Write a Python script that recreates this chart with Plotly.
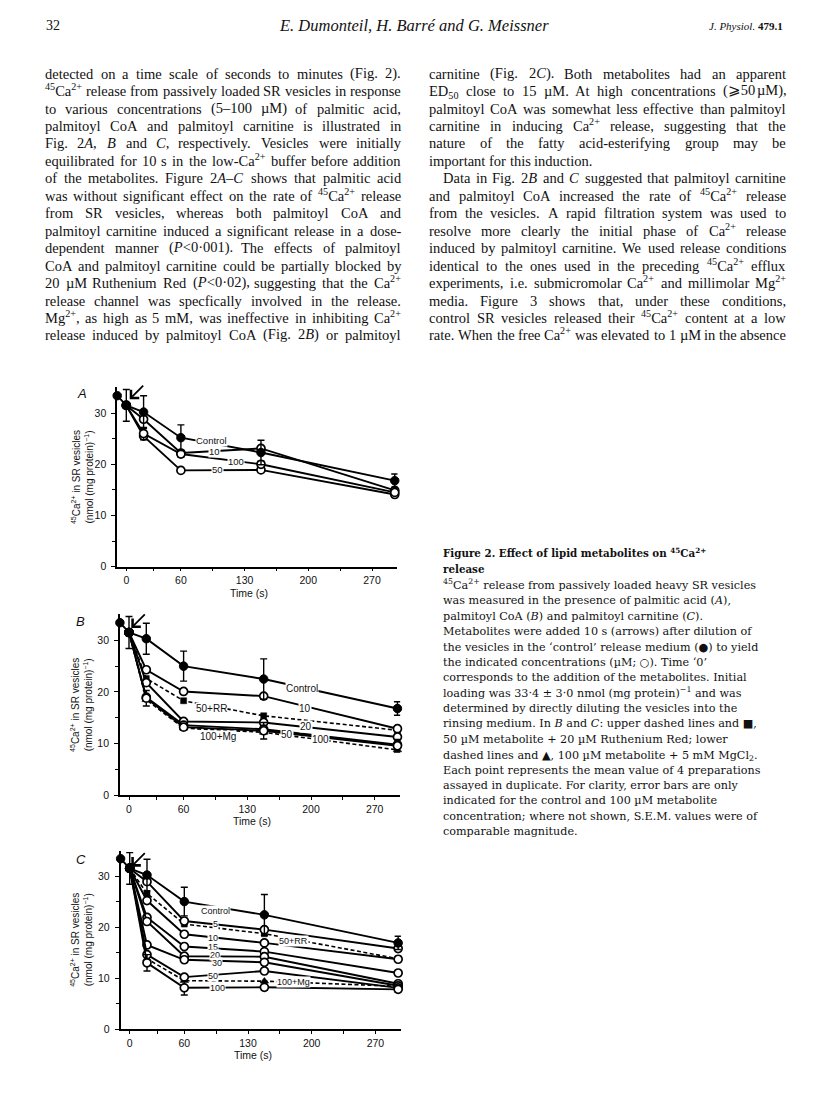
import re
import plotly.graph_objects as go

W, H = 816, 1110


def fx(x):
    return x / W


def fy(y):
    return 1 - y / H


# ---------------- data ----------------
times = [0, 19, 60, 148, 295]          # s after metabolite addition (as plotted)
t_pre = -10                            # dilution time (before addition)
initial_loading = 33.4                 # nmol (mg protein)^-1

# Panel A: palmitic acid
a_control = [31.5, 30.2, 25.2, 22.3, 16.8]
a_control_err = [3.1, 3.2, 2.5, 2.4, 1.3]
a_10 = [31.5, 28.8, 22.2, 23.1, 14.9]
a_50 = [31.5, 25.5, 18.8, 18.9, 14.1]
a_100 = [31.5, 26.0, 22.0, 20.0, 14.5]
a_100_err = [0, 1.2, 0.6, 0.6, 0.5]

# Panel B: palmitoyl CoA
b_control = [31.5, 30.3, 25.0, 22.5, 16.8]
b_control_err = [3.1, 3.0, 2.9, 3.9, 1.3]
b_10 = [31.5, 24.3, 20.1, 19.2, 12.9]
b_20 = [31.5, 21.8, 14.3, 14.1, 11.3]
b_50 = [31.5, 19.0, 13.6, 12.8, 9.8]
b_100 = [31.5, 18.8, 13.2, 12.5, 9.6]
b_100_err = [0, 1.5, 0.6, 1.6, 1.2]
b_50rr = [31.5, 22.6, 18.3, 15.4, 12.6]
b_100mg = [31.5, 18.5, 13.0, 12.2, 8.8]

# Panel C: palmitoyl carnitine
c_control = [31.5, 30.2, 25.0, 22.4, 16.9]
c_control_err = [3.1, 3.1, 2.8, 4.0, 1.3]
c_5 = [31.5, 28.9, 21.2, 19.5, 15.8]
c_10 = [31.5, 25.2, 18.6, 16.9, 13.7]
c_15 = [31.5, 21.9, 16.2, 15.2, 11.0]
c_20 = [31.5, 21.1, 14.3, 14.2, 8.9]
c_30 = [31.5, 16.5, 13.6, 13.1, 8.5]
c_50 = [31.5, 14.6, 10.2, 11.4, 8.1]
c_100 = [31.5, 13.0, 8.1, 8.2, 7.8]
c_100_err = [0, 1.6, 1.4, 0.6, 0.6]
c_50rr = [31.5, 26.6, 20.6, 18.7, 13.8]
c_100mg = [31.5, 13.8, 9.5, 9.4, 8.4]

x_tickvals = [0, 60, 130, 200, 270]
x_ticktext = ["0", "60", "130", "200", "270"]
x_minor = [30, 95, 165, 235]
y_tickvals = [0, 10, 20, 30]
y_ticktext = ["0", "10", "20", "30"]
y_minor = [5, 15, 25]

labels_a = [("Control", 94, 24.6), ("10", 97, 22.4), ("100", 121, 20.6), ("50", 100, 19.0)]
labels_b = [("Control", 190, 20.7), ("10", 193, 16.9), ("50+RR", 91, 16.9), ("20", 195, 13.3),
            ("50", 174, 11.8), ("100", 210, 10.9), ("100+Mg", 98, 11.4)]
labels_c = [("Control", 94, 23.1), ("5", 94, 20.7), ("10", 91, 17.9), ("15", 91, 16.1),
            ("20", 94, 14.5), ("30", 96, 12.9), ("50", 91, 10.5), ("100", 97, 8.1),
            ("50+RR", 180, 17.3), ("100+Mg", 180, 9.2)]

# ---------------- page text ----------------
left_col = [
    "detected on a time scale of seconds to minutes (Fig. 2).",
    "<sup>45</sup>Ca<sup>2+</sup> release from passively loaded SR vesicles in response",
    "to various concentrations (5–100 µM) of palmitic acid,",
    "palmitoyl CoA and palmitoyl carnitine is illustrated in",
    "Fig. 2<i>A</i>, <i>B</i> and <i>C</i>, respectively. Vesicles were initially",
    "equilibrated for 10 s in the low-Ca<sup>2+</sup> buffer before addition",
    "of the metabolites. Figure 2<i>A</i>–<i>C</i> shows that palmitic acid",
    "was without significant effect on the rate of <sup>45</sup>Ca<sup>2+</sup> release",
    "from SR vesicles, whereas both palmitoyl CoA and",
    "palmitoyl carnitine induced a significant release in a dose-",
    "dependent manner (<i>P</i>&lt;0·001). The effects of palmitoyl",
    "CoA and palmitoyl carnitine could be partially blocked by",
    "20 µM Ruthenium Red (<i>P</i>&lt;0·02), suggesting that the Ca<sup>2+</sup>",
    "release channel was specfically involved in the release.",
    "Mg<sup>2+</sup>, as high as 5 mM, was ineffective in inhibiting Ca<sup>2+</sup>",
    "release induced by palmitoyl CoA (Fig. 2<i>B</i>) or palmitoyl",
]
right_col = [
    "carnitine (Fig. 2<i>C</i>). Both metabolites had an apparent",
    "ED<sub>50</sub> close to 15 µM. At high concentrations (⩾50 µM),",
    "palmitoyl CoA was somewhat less effective than palmitoyl",
    "carnitine in inducing Ca<sup>2+</sup> release, suggesting that the",
    "nature of the fatty acid-esterifying group may be",
    "important for this induction.",
    "Data in Fig. 2<i>B</i> and <i>C</i> suggested that palmitoyl carnitine",
    "and palmitoyl CoA increased the rate of <sup>45</sup>Ca<sup>2+</sup> release",
    "from the vesicles. A rapid filtration system was used to",
    "resolve more clearly the initial phase of Ca<sup>2+</sup> release",
    "induced by palmitoyl carnitine. We used release conditions",
    "identical to the ones used in the preceding <sup>45</sup>Ca<sup>2+</sup> efflux",
    "experiments, i.e. submicromolar Ca<sup>2+</sup> and millimolar Mg<sup>2+</sup>",
    "media. Figure 3 shows that, under these conditions,",
    "control SR vesicles released their <sup>45</sup>Ca<sup>2+</sup> content at a low",
    "rate. When the free Ca<sup>2+</sup> was elevated to 1 µM in the absence",
]
right_unjustified = {5}
right_indent = {6}

caption_title = [
    "<b>Figure 2. Effect of lipid metabolites on <sup>45</sup>Ca<sup>2+</sup></b>",
    "<b>release</b>",
]
caption_lines = [
    "<sup>45</sup>Ca<sup>2+</sup> release from passively loaded heavy SR vesicles",
    "was measured in the presence of palmitic acid (<i>A</i>),",
    "palmitoyl CoA (<i>B</i>) and palmitoyl carnitine (<i>C</i>).",
    "Metabolites were added 10 s (arrows) after dilution of",
    "the vesicles in the ‘control’ release medium (●) to yield",
    "the indicated concentrations (µM; ○). Time ‘0’",
    "corresponds to the addition of the metabolites. Initial",
    "loading was 33·4 ± 3·0 nmol (mg protein)<sup>−1</sup> and was",
    "determined by directly diluting the vesicles into the",
    "rinsing medium. In <i>B</i> and <i>C</i>: upper dashed lines and ■,",
    "50 µM metabolite + 20 µM Ruthenium Red; lower",
    "dashed lines and ▲, 100 µM metabolite + 5 mM MgCl<sub>2</sub>.",
    "Each point represents the mean value of 4 preparations",
    "assayed in duplicate. For clarity, error bars are only",
    "indicated for the control and 100 µM metabolite",
    "concentration; where not shown, S.E.M. values were of",
    "comparable magnitude.",
]

# ---------------- text measuring (Times metrics) ----------------
TW = {' ': 250, '!': 333, '"': 408, '%': 833, '&': 778, "'": 333, '(': 333, ')': 333,
      '*': 500, '+': 564, ',': 250, '-': 333, '.': 250, '/': 278, ':': 278, ';': 278,
      '<': 564, '=': 564, '>': 564, '?': 444, '–': 500, '—': 1000, '‘': 333, '’': 333,
      '·': 250, '±': 564, '⩾': 549, 'µ': 500, 'é': 444,
      'A': 722, 'B': 667, 'C': 667, 'D': 722, 'E': 611, 'F': 556, 'G': 722, 'H': 722,
      'I': 333, 'J': 389, 'K': 722, 'L': 611, 'M': 889, 'N': 722, 'O': 722, 'P': 556,
      'Q': 722, 'R': 667, 'S': 556, 'T': 611, 'U': 722, 'V': 722, 'W': 944, 'X': 722,
      'Y': 722, 'Z': 611,
      'a': 444, 'b': 500, 'c': 444, 'd': 500, 'e': 444, 'f': 333, 'g': 500, 'h': 500,
      'i': 278, 'j': 278, 'k': 500, 'l': 278, 'm': 778, 'n': 500, 'o': 500, 'p': 500,
      'q': 500, 'r': 333, 's': 389, 't': 278, 'u': 500, 'v': 500, 'w': 722, 'x': 500,
      'y': 500, 'z': 444}
for d in "0123456789":
    TW[d] = 500


def text_width(html, size):
    w = 0.0
    depth = 0
    for part in re.split(r'(<[^>]+>)', html):
        if not part:
            continue
        if part.startswith('<'):
            tag = part.strip('<>/').split()[0].lower()
            if tag in ('sup', 'sub'):
                depth += -1 if part.startswith('</') else 1
            continue
        part = part.replace('&lt;', '<').replace('&gt;', '>').replace('&amp;', '&')
        f = 0.7 if depth > 0 else 1.0
        for ch in part:
            w += TW.get(ch, 500) / 1000.0 * size * f
    return w


anns = []
BODY_FONT = "Liberation Serif, Times New Roman, serif"
BODY_SIZE = 14.5
INK = "#111111"


def body_line(html, x0, x1, y_mid, size, justify, indent=0.0):
    words = html.split(' ')
    widths = [text_width(w, size) for w in words]
    start = x0 + indent
    if justify and len(words) > 1:
        gap = (x1 - start - sum(widths)) / (len(words) - 1)
    else:
        gap = 0.25 * size
    x = start
    for w, wd in zip(words, widths):
        yb = y_mid + 0.5535 * size
        if '<sub>' in w:
            yb += 0.14 * size
        anns.append(dict(text=w, x=fx(x), y=fy(yb), xref='paper', yref='paper',
                         xanchor='left', yanchor='bottom', showarrow=False,
                         borderpad=0, borderwidth=0,
                         font=dict(family=BODY_FONT, size=size, color=INK)))
        x += wd + gap


BODY_TOP = 66.0
BODY_STEP = 17.55
LX0, LX1 = 37, 393
RX0, RX1 = 421, 778
for i, line in enumerate(left_col):
    body_line(line, LX0, LX1, BODY_TOP + i * BODY_STEP, BODY_SIZE, True)
for i, line in enumerate(right_col):
    body_line(line, RX0, RX1, BODY_TOP + i * BODY_STEP, BODY_SIZE,
              i not in right_unjustified, indent=14 if i in right_indent else 0)

# header
HEAD_Y = 18
anns.append(dict(text="32", x=fx(37), y=fy(HEAD_Y), xref='paper', yref='paper', xanchor='left',
                 yanchor='middle', showarrow=False, borderpad=0,
                 font=dict(family=BODY_FONT, size=14, color=INK)))
anns.append(dict(text="<i>E. Dumonteil, H. Barré and G. Meissner</i>", x=fx(406), y=fy(HEAD_Y),
                 xref='paper', yref='paper', xanchor='center', yanchor='middle',
                 showarrow=False, borderpad=0,
                 font=dict(family=BODY_FONT, size=16.5, color=INK)))
anns.append(dict(text="<i>J. Physiol.</i> <b>479.1</b>", x=fx(776), y=fy(HEAD_Y),
                 xref='paper', yref='paper', xanchor='right', yanchor='middle',
                 showarrow=False, borderpad=0,
                 font=dict(family=BODY_FONT, size=11, color=INK)))

# caption
CAP_FONT = "DejaVu Serif, serif"
CAP_SIZE = 11.2
CAP_TITLE_SIZE = 10.3
cap_title_y = [548, 564.5]
cap_y = [580.7 + 15.46 * k for k in range(len(caption_lines))]
for line, y in zip(caption_title, cap_title_y):
    anns.append(dict(text=line, x=fx(435), y=fy(y + 0.582 * CAP_TITLE_SIZE), xref='paper',
                     yref='paper', xanchor='left', yanchor='bottom', showarrow=False,
                     borderpad=0, borderwidth=0, align='left',
                     font=dict(family=CAP_FONT, size=CAP_TITLE_SIZE, color=INK)))
for line, y in zip(caption_lines, cap_y):
    yb = y + 0.582 * CAP_SIZE
    if '<sub>' in line:
        yb += 0.14 * CAP_SIZE
    anns.append(dict(text=line, x=fx(435), y=fy(yb), xref='paper', yref='paper',
                     xanchor='left', yanchor='bottom', showarrow=False, borderpad=0,
                     borderwidth=0, align='left',
                     font=dict(family=CAP_FONT, size=CAP_SIZE, color=INK)))

# ---------------- chart panels ----------------
SANS = "Liberation Sans, Arial, sans-serif"
XSCALE = 0.91
X_MAX = 298
panels = [
    dict(key='', letter='A', x0=118.3, y0=561.7, ys=5.147, lpos=(67, 388),
         control=a_control, control_err=a_control_err,
         series=[('open', a_10, None), ('open', a_50, None), ('open', a_100, a_100_err)],
         labels=labels_a, arrow=(121.7, 393.3), lsize=9.5),
    dict(key='2', letter='B', x0=121.0, y0=791.7, ys=5.2, lpos=(66, 617),
         control=b_control, control_err=b_control_err,
         series=[('rr', b_50rr, None), ('mg', b_100mg, None), ('open', b_10, None),
                 ('open', b_20, None), ('open', b_50, None), ('open', b_100, b_100_err)],
         labels=labels_b, arrow=(123.3, 623.3), lsize=10),
    dict(key='3', letter='C', x0=121.7, y0=1026.7, ys=5.13, lpos=(66, 856),
         control=c_control, control_err=c_control_err,
         series=[('rr', c_50rr, None), ('mg', c_100mg, None), ('open', c_5, None),
                 ('open', c_10, None), ('open', c_15, None), ('open', c_20, None),
                 ('open', c_30, None), ('open', c_50, None), ('open', c_100, c_100_err)],
         labels=labels_c, arrow=(123.3, 863.3), lsize=9),
]

layout_axes = {}
fig = go.Figure()


def style(kind):
    if kind == 'control':
        return dict(symbol='circle', size=8.5, color='black', line=dict(color='black', width=1)), 'solid', 1.9
    if kind == 'open':
        return dict(symbol='circle', size=8, color='white', line=dict(color='black', width=1.7)), 'solid', 1.9
    if kind == 'rr':
        return dict(symbol='square', size=6, color='black', line=dict(color='black', width=0.5)), '4px,2.5px', 1.6
    return dict(symbol='triangle-up', size=7.5, color='black', line=dict(color='black', width=0.5)), '4px,2.5px', 1.6


for p in panels:
    k = p['key']
    xa, ya = 'x' + k, 'y' + k
    xmin_px = p['x0'] - 10 * XSCALE
    xmax_px = p['x0'] + X_MAX * XSCALE
    ytop_px = p['y0'] - 35 * p['ys']
    axis_common = dict(showline=True, linecolor='black', linewidth=1.6, ticks='outside',
                       tickwidth=1.3, tickcolor='black', showgrid=False,
                       zeroline=False, tickfont=dict(family=SANS, size=10.5, color=INK))
    layout_axes['xaxis' + k] = dict(domain=[fx(xmin_px), fx(xmax_px)], range=[-10, X_MAX],
                                    anchor=ya, tickvals=x_tickvals, ticktext=x_ticktext,
                                    ticklen=3,
                                    minor=dict(tickvals=x_minor, ticks='outside', ticklen=3,
                                               tickwidth=1.2, tickcolor='black'),
                                    **axis_common)
    layout_axes['yaxis' + k] = dict(domain=[fy(p['y0']), fy(ytop_px)], range=[0, 35],
                                    anchor=xa, tickvals=y_tickvals, ticktext=y_ticktext,
                                    ticklen=4, ticklabelstandoff=3,
                                    minor=dict(tickvals=y_minor, ticks='outside', ticklen=3,
                                               tickwidth=1.2, tickcolor='black'),
                                    **axis_common)
    for kind, vals, err in p['series']:
        mk, dash, lw = style(kind)
        tr = dict(x=times, y=vals, mode='lines+markers', xaxis=xa, yaxis=ya, marker=mk,
                  line=dict(color='black', width=lw, dash=dash), cliponaxis=False,
                  hoverinfo='skip')
        if err is not None:
            tr['error_y'] = dict(type='data', array=err, symmetric=True, color='black',
                                 thickness=1.4, width=3.5)
        fig.add_trace(go.Scatter(**tr))
    mk, dash, lw = style('control')
    fig.add_trace(go.Scatter(x=[t_pre] + times, y=[initial_loading] + p['control'],
                             mode='lines+markers', xaxis=xa, yaxis=ya, marker=mk,
                             line=dict(color='black', width=lw), cliponaxis=False,
                             error_y=dict(type='data', array=[0] + p['control_err'],
                                          symmetric=True, color='black', thickness=1.4,
                                          width=3.5),
                             hoverinfo='skip'))
    # line labels
    for txt, lx, ly in p['labels']:
        anns.append(dict(text=txt, x=lx, y=ly, xref=xa, yref=ya, showarrow=False,
                         bgcolor='white', borderpad=0, xanchor='center', yanchor='middle',
                         font=dict(family=SANS, size=p['lsize'], color=INK)))
    # arrow marking metabolite addition
    hx, hy = p['arrow']
    anns.append(dict(x=(hx - p['x0']) / XSCALE, y=(p['y0'] - hy) / p['ys'], xref=xa, yref=ya,
                     ax=15, ay=-15, showarrow=True, arrowhead=4, arrowsize=1.25,
                     arrowwidth=1.8, arrowcolor='black', text=''))
    # panel letter
    anns.append(dict(text="<i>%s</i>" % p['letter'], x=fx(p['lpos'][0]), y=fy(p['lpos'][1]),
                     xref='paper', yref='paper', showarrow=False, xanchor='left',
                     yanchor='middle', font=dict(family=SANS, size=13, color=INK)))
    # y-axis title
    anns.append(dict(text="<sup>45</sup>Ca<sup>2+</sup> in SR vesicles<br>(nmol (mg protein)<sup>−1</sup>)",
                     x=fx(74), y=fy((p['y0'] + ytop_px) / 2), xref='paper', yref='paper',
                     showarrow=False, textangle=-90, xanchor='center', yanchor='middle',
                     font=dict(family=SANS, size=10, color=INK)))
    # x-axis title
    anns.append(dict(text="Time (s)", x=fx(p['x0'] + 135 * XSCALE), y=fy(p['y0'] + 26),
                     xref='paper', yref='paper', showarrow=False, xanchor='center',
                     yanchor='middle', font=dict(family=SANS, size=10.5, color=INK)))

fig.update_layout(width=W, height=H, margin=dict(l=0, r=0, t=0, b=0),
                  paper_bgcolor='white', plot_bgcolor='rgba(0,0,0,0)', showlegend=False,
                  annotations=anns, **layout_axes)

fig.write_html("out.html")
